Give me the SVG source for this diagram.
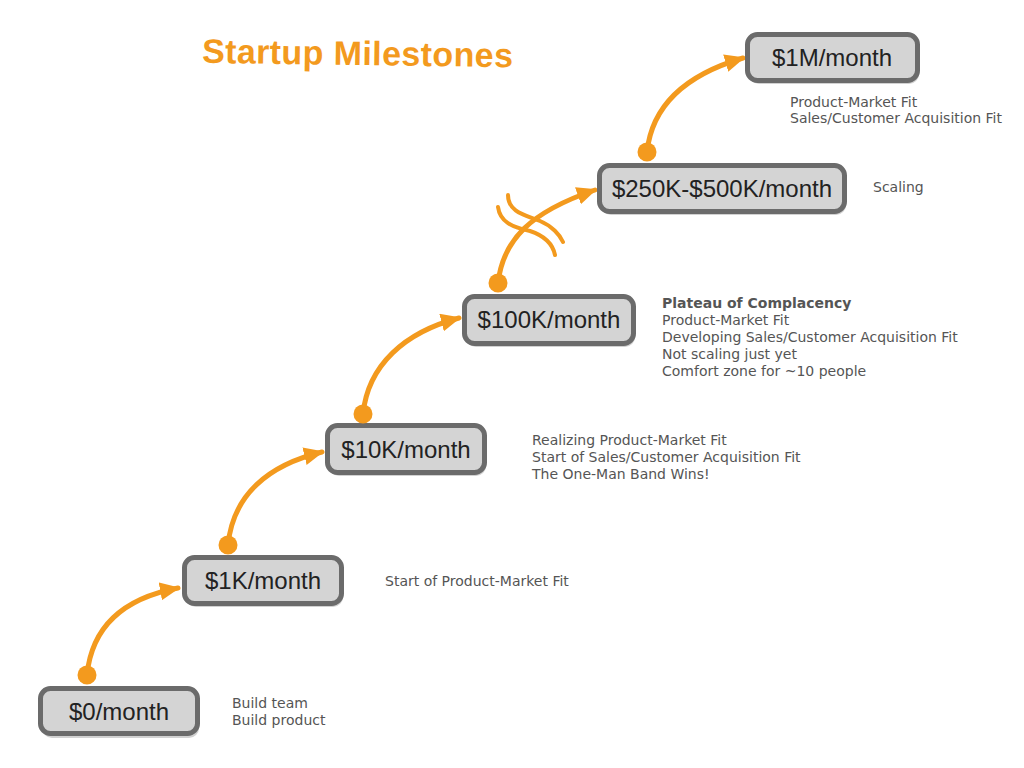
<svg xmlns="http://www.w3.org/2000/svg" width="1024" height="768" viewBox="0 0 1024 768">
<defs>
<style>
.box{fill:#d4d4d4;stroke:#6b6b6b;stroke-width:5}
.shadow{fill:#9a9a9a;opacity:0.45}
.lbl{font-family:"Liberation Sans",Arial,sans-serif;font-size:24px;fill:#222;text-anchor:middle}
.desc{font-family:"DejaVu Sans",Verdana,sans-serif;font-size:14px;fill:#555}
.bold{font-weight:bold}
.arrow{fill:none;stroke:#f39a1e;stroke-width:5;stroke-linecap:round;marker-end:url(#ah)}
.sq{fill:none;stroke:#f39a1e;stroke-width:4;stroke-linecap:round}
.dot{fill:#f39a1e}
.title{font-family:"Liberation Sans",Arial,sans-serif;font-weight:bold;font-size:34px;fill:#f39a1e}
</style>
<marker id="ah" viewBox="0 0 20 18" refX="18" refY="9" markerWidth="20" markerHeight="18" markerUnits="userSpaceOnUse" orient="auto">
<path d="M0,0 L20,9 L0,18 z" fill="#f39a1e"/>
</marker>
</defs>
<rect width="1024" height="768" fill="#fff"/>
<text class="title" x="202" y="65" textLength="311" transform="rotate(0.8 357 55)">Startup Milestones</text>

<g id="connectors">
<path class="arrow" d="M87,675 C92,625 125,598 178,588"/>
<path class="arrow" d="M228,545 C233,495 268,465 322,452"/>
<path class="arrow" d="M363,414 C368,365 405,332 459,318"/>
<path class="arrow" d="M498,283 C503,240 530,212 595,190"/>
<path class="sq" d="M508,195 C508,212 525,215 540,221 C552,226 560,235 563,242"/>
<path class="sq" d="M498,207 C500,222 512,227 530,231 C545,236 553,245 555,255"/>
<path class="arrow" d="M647,152 C652,105 685,75 743,58"/>
</g>

<g id="n0">
<rect class="shadow" x="42" y="692" width="157" height="46" rx="10"/>
<rect class="box" x="40.5" y="688.5" width="157" height="45" rx="10"/>
<text class="lbl" x="119" y="720">$0/month</text>
<circle class="dot" cx="87" cy="675" r="9.5"/>
<text class="desc" x="232" y="708">Build team</text>
<text class="desc" x="232" y="725">Build product</text>
</g>

<g id="n1">
<rect class="shadow" x="186" y="561" width="157" height="46" rx="10"/>
<rect class="box" x="184.5" y="557.5" width="157" height="46" rx="10"/>
<text class="lbl" x="263" y="589">$1K/month</text>
<circle class="dot" cx="228" cy="545" r="9.5"/>
<text class="desc" x="385" y="586">Start of Product-Market Fit</text>
</g>

<g id="n2">
<rect class="shadow" x="329" y="429" width="157" height="47" rx="10"/>
<rect class="box" x="327.5" y="425.5" width="157" height="47" rx="10"/>
<text class="lbl" x="406" y="458">$10K/month</text>
<circle class="dot" cx="363" cy="414" r="9.5"/>
<text class="desc" x="532" y="445">Realizing Product-Market Fit</text>
<text class="desc" x="532" y="462">Start of Sales/Customer Acquisition Fit</text>
<text class="desc" x="532" y="479">The One-Man Band Wins!</text>
</g>

<g id="n3">
<rect class="shadow" x="466" y="300" width="169" height="47" rx="10"/>
<rect class="box" x="464.5" y="296.5" width="169" height="47" rx="10"/>
<text class="lbl" x="549" y="328">$100K/month</text>
<circle class="dot" cx="498" cy="283" r="9.5"/>
<text class="desc bold" x="662" y="308">Plateau of Complacency</text>
<text class="desc" x="662" y="325">Product-Market Fit</text>
<text class="desc" x="662" y="342">Developing Sales/Customer Acquisition Fit</text>
<text class="desc" x="662" y="359">Not scaling just yet</text>
<text class="desc" x="662" y="376">Comfort zone for ~10 people</text>
</g>

<g id="n4">
<rect class="shadow" x="601" y="169" width="245" height="46" rx="10"/>
<rect class="box" x="599.5" y="165.5" width="245" height="46" rx="10"/>
<text class="lbl" x="722" y="197">$250K-$500K/month</text>
<circle class="dot" cx="647" cy="152" r="9.5"/>
<text class="desc" x="873" y="192">Scaling</text>
</g>

<g id="n5">
<rect class="shadow" x="749" y="38" width="170" height="46" rx="10"/>
<rect class="box" x="747.5" y="34.5" width="170" height="46" rx="10"/>
<text class="lbl" x="832" y="66">$1M/month</text>
<text class="desc" x="790" y="107">Product-Market Fit</text>
<text class="desc" x="790" y="123">Sales/Customer Acquisition Fit</text>
</g>
</svg>
